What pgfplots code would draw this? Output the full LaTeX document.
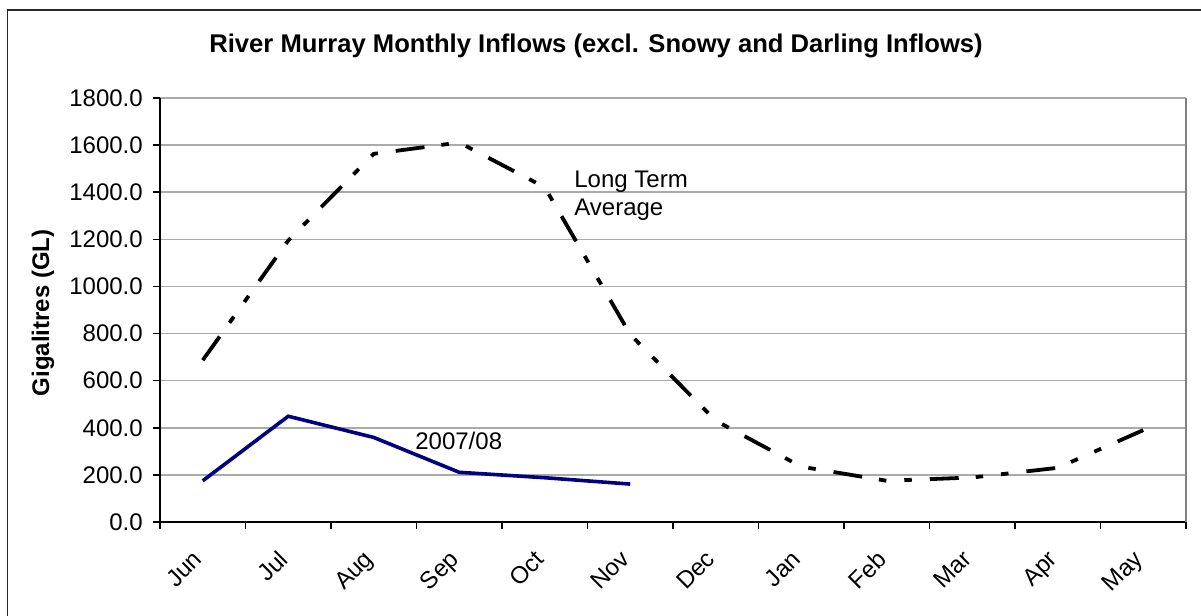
\documentclass[border=0pt]{standalone}
\usepackage{pgfplots}
\pgfplotsset{compat=1.18}
\usepackage{fontspec}
\setmainfont{Liberation Sans}
\definecolor{navyline}{RGB}{0,0,128}
\definecolor{gridgray}{RGB}{170,170,170}
\definecolor{bordergray}{RGB}{128,128,128}
\begin{document}
\begin{tikzpicture}
\useasboundingbox (0,0) rectangle (600.5pt,-308pt);
\draw[line width=0.9pt, black!85] (3.75pt,-320pt) -- (3.75pt,-5pt) -- (610pt,-5pt);
\begin{axis}[
  scale only axis,
  width=513pt, height=212pt,
  at={(80pt,-261pt)}, anchor=south west,
  xmin=-0.5, xmax=11.5,
  ymin=0, ymax=1800,
  axis lines*=left,
  axis line style={black, line width=0.8pt},
  tick align=outside,
  xtick pos=lower, ytick pos=left,
  xtick={0,...,11},
  xticklabels={Jun,Jul,Aug,Sep,Oct,Nov,Dec,Jan,Feb,Mar,Apr,May},
  major x tick style={draw=none},
  minor xtick={-0.5,0.5,...,11.5},
  minor x tick style={black, line width=0.8pt},
  minor tick length=3.5pt,
  major tick length=3.5pt,
  ytick={0,200,...,1800},
  major y tick style={black, line width=0.8pt},
  ymajorgrids,
  grid style={gridgray, line width=0.8pt},
  /pgf/number format/fixed,
  /pgf/number format/fixed zerofill,
  /pgf/number format/precision=1,
  /pgf/number format/1000 sep={},
  /pgf/number format/assume math mode=true,
  yticklabel style={font=\fontsize{12}{14}\selectfont, xshift=-1.6pt},
  xticklabel style={font=\fontsize{12}{14}\selectfont, xshift=-5.5pt, yshift=-5pt, rotate=45, anchor=north east},
  ylabel={\bfseries Gigalitres (GL)},
  ylabel style={font=\fontsize{12}{14}\selectfont, at={(axis description cs:-0.114,0.493)}, anchor=center},
  title={\bfseries River Murray Monthly Inflows (excl. Snowy and Darling Inflows)},
  title style={font=\fontsize{12.8}{15}\selectfont, at={(axis description cs:0.425,1)}, anchor=base, yshift=17pt},
  clip=false,
]
\addplot[black, line width=1.9pt, line cap=butt,
  dash pattern=on 14.5pt off 8.5pt on 3.75pt off 9pt on 3.75pt off 9pt]
  coordinates {(0,687) (1,1195) (2,1563) (3,1611) (4,1421) (5,796) (6,430) (7,235) (8,175) (9,189) (10,230) (11,390)};
\addplot[navyline, line width=1.8pt, line join=miter]
  coordinates {(0,175) (1,449) (2,359) (3,211) (4,188) (5,161)};
\draw[bordergray, line width=1pt] (axis description cs:1,0) -- (axis description cs:1,1);
\node[anchor=base west, inner sep=0pt, font=\fontsize{12}{14}\selectfont] at (axis cs:4.342,1422) {Long Term};
\node[anchor=base west, inner sep=0pt, font=\fontsize{12}{14}\selectfont] at (axis cs:4.342,1303) {Average};
\node[anchor=base west, inner sep=0pt, font=\fontsize{12}{14}\selectfont] at (axis cs:2.482,306) {2007/08};
\end{axis}
\end{tikzpicture}
\end{document}
